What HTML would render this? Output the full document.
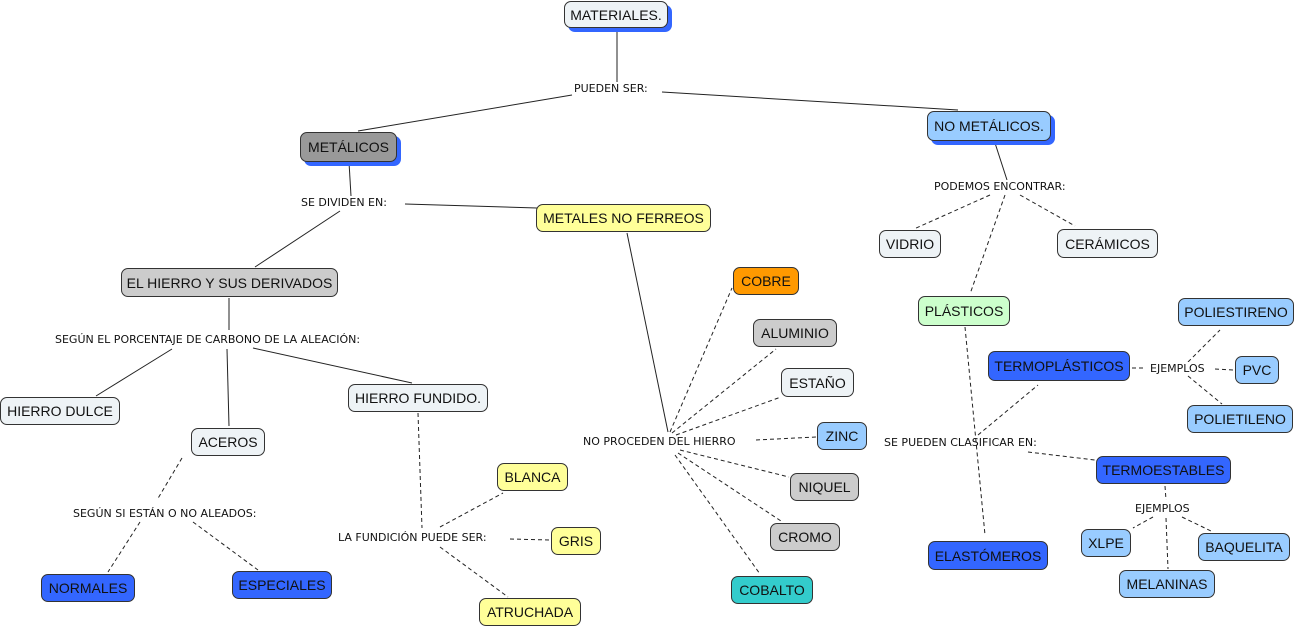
<!DOCTYPE html>
<html><head><meta charset="utf-8">
<style>
html,body{margin:0;padding:0;background:#fff;}
body{width:1296px;height:629px;position:relative;overflow:hidden;}
svg{position:absolute;left:0;top:0;}
.n{position:absolute;box-sizing:border-box;border:1px solid #333;border-radius:7px;display:flex;align-items:center;justify-content:center;font-family:"Liberation Sans",sans-serif;font-size:14px;color:#111;white-space:nowrap;}
.sh{box-shadow:4px 4px 0 #3366ff;}
.l{position:absolute;font-family:"DejaVu Sans","Liberation Sans",sans-serif;font-size:11px;color:#111;white-space:nowrap;background:#fff;line-height:13px;padding:0 1px;}
.w{background:#eef3f6}.g{background:#999}.lg{background:#ccc}.y{background:#ffff99}.b{background:#3366ff}.lb{background:#99ccff}.o{background:#ff9900}.t{background:#33cccc}.gr{background:#ccffcc}
</style></head><body>
<svg width="1296" height="629" stroke="#222" stroke-width="1" fill="none">
<g>
<line x1="617" y1="28" x2="617" y2="82"/>
<line x1="572" y1="95" x2="358" y2="131"/>
<line x1="662" y1="92" x2="958" y2="110"/>
<line x1="349" y1="162" x2="351" y2="196"/>
<line x1="405" y1="204" x2="537" y2="208"/>
<line x1="340" y1="211" x2="255" y2="267"/>
<line x1="627" y1="233" x2="668" y2="432"/>
<line x1="229" y1="298" x2="229" y2="330"/>
<line x1="172" y1="349" x2="96" y2="396"/>
<line x1="227" y1="349" x2="229" y2="426"/>
<line x1="253" y1="348" x2="412" y2="383"/>
<line x1="995" y1="143" x2="1007" y2="180"/>
</g>
<g stroke-dasharray="4,3">
<line x1="182" y1="458" x2="157" y2="500"/>
<line x1="140" y1="522" x2="108" y2="572"/>
<line x1="193" y1="522" x2="258" y2="570"/>
<line x1="418" y1="413" x2="422" y2="528"/>
<line x1="440" y1="527" x2="503" y2="493"/>
<line x1="510" y1="539" x2="550" y2="540"/>
<line x1="440" y1="547" x2="508" y2="597"/>
<line x1="670" y1="432" x2="732" y2="288"/>
<line x1="672" y1="433" x2="776" y2="349"/>
<line x1="676" y1="435" x2="781" y2="397"/>
<line x1="756" y1="440" x2="816" y2="437"/>
<line x1="680" y1="450" x2="789" y2="477"/>
<line x1="678" y1="453" x2="781" y2="521"/>
<line x1="675" y1="455" x2="760" y2="574"/>
<line x1="990" y1="195" x2="914" y2="229"/>
<line x1="1020" y1="195" x2="1075" y2="226"/>
<line x1="1005" y1="195" x2="970" y2="294"/>
<line x1="965" y1="327" x2="985" y2="535"/>
<line x1="978" y1="435" x2="1038" y2="385"/>
<line x1="1028" y1="452" x2="1095" y2="460"/>
<line x1="1132" y1="368" x2="1146" y2="368"/>
<line x1="1215" y1="369" x2="1234" y2="370"/>
<line x1="1188" y1="362" x2="1220" y2="330"/>
<line x1="1188" y1="376" x2="1222" y2="404"/>
<line x1="1165" y1="486" x2="1166" y2="500"/>
<line x1="1166" y1="518" x2="1168" y2="569"/>
<line x1="1153" y1="517" x2="1133" y2="528"/>
<line x1="1182" y1="517" x2="1211" y2="531"/>
</g>
</svg>

<div class="n w sh" style="left:564px;top:1px;width:104px;height:27px">MATERIALES.</div>
<div class="n g sh" style="left:300px;top:132px;width:97px;height:30px">METÁLICOS</div>
<div class="n lb sh" style="left:927px;top:111px;width:124px;height:30px">NO METÁLICOS.</div>
<div class="n y" style="left:536px;top:204px;width:175px;height:28px">METALES NO FERREOS</div>
<div class="n lg" style="left:121px;top:268px;width:217px;height:29px">EL HIERRO Y SUS DERIVADOS</div>
<div class="n w" style="left:0px;top:397px;width:120px;height:28px">HIERRO DULCE</div>
<div class="n w" style="left:191px;top:428px;width:74px;height:28px">ACEROS</div>
<div class="n w" style="left:348px;top:384px;width:140px;height:28px">HIERRO FUNDIDO.</div>
<div class="n b" style="left:41px;top:574px;width:94px;height:28px">NORMALES</div>
<div class="n b" style="left:232px;top:571px;width:100px;height:28px">ESPECIALES</div>
<div class="n y" style="left:497px;top:463px;width:71px;height:28px">BLANCA</div>
<div class="n y" style="left:551px;top:527px;width:50px;height:28px">GRIS</div>
<div class="n y" style="left:479px;top:598px;width:102px;height:28px">ATRUCHADA</div>
<div class="n o" style="left:733px;top:267px;width:66px;height:28px">COBRE</div>
<div class="n lg" style="left:753px;top:319px;width:84px;height:28px">ALUMINIO</div>
<div class="n w" style="left:781px;top:368px;width:73px;height:29px">ESTAÑO</div>
<div class="n lb" style="left:817px;top:422px;width:50px;height:28px">ZINC</div>
<div class="n lg" style="left:790px;top:473px;width:69px;height:28px">NIQUEL</div>
<div class="n lg" style="left:770px;top:523px;width:70px;height:28px">CROMO</div>
<div class="n t" style="left:731px;top:576px;width:82px;height:28px">COBALTO</div>
<div class="n w" style="left:879px;top:230px;width:62px;height:28px">VIDRIO</div>
<div class="n w" style="left:1057px;top:229px;width:101px;height:29px">CERÁMICOS</div>
<div class="n gr" style="left:918px;top:296px;width:92px;height:30px">PLÁSTICOS</div>
<div class="n lb" style="left:1178px;top:298px;width:116px;height:28px">POLIESTIRENO</div>
<div class="n b" style="left:988px;top:351px;width:142px;height:30px">TERMOPLÁSTICOS</div>
<div class="n lb" style="left:1235px;top:356px;width:44px;height:28px">PVC</div>
<div class="n lb" style="left:1187px;top:405px;width:106px;height:28px">POLIETILENO</div>
<div class="n b" style="left:1096px;top:456px;width:135px;height:28px">TERMOESTABLES</div>
<div class="n b" style="left:928px;top:541px;width:120px;height:29px">ELASTÓMEROS</div>
<div class="n lb" style="left:1081px;top:529px;width:50px;height:28px">XLPE</div>
<div class="n lb" style="left:1198px;top:533px;width:92px;height:28px">BAQUELITA</div>
<div class="n lb" style="left:1119px;top:570px;width:96px;height:28px">MELANINAS</div>

<div class="l" style="left:573px;top:82px">PUEDEN SER:</div>
<div class="l" style="left:300px;top:196px">SE DIVIDEN EN:</div>
<div class="l" style="left:933px;top:180px">PODEMOS ENCONTRAR:</div>
<div class="l" style="left:54px;top:333px">SEGÚN EL PORCENTAJE DE CARBONO DE LA ALEACIÓN:</div>
<div class="l" style="left:72px;top:507px">SEGÚN SI ESTÁN O NO ALEADOS:</div>
<div class="l" style="left:337px;top:531px">LA FUNDICIÓN PUEDE SER:</div>
<div class="l" style="left:582px;top:435px;background:none">NO PROCEDEN DEL HIERRO</div>
<div class="l" style="left:883px;top:436px;background:none">SE PUEDEN CLASIFICAR EN:</div>
<div class="l" style="left:1149px;top:362px">EJEMPLOS</div>
<div class="l" style="left:1134px;top:502px">EJEMPLOS</div>
</body></html>
